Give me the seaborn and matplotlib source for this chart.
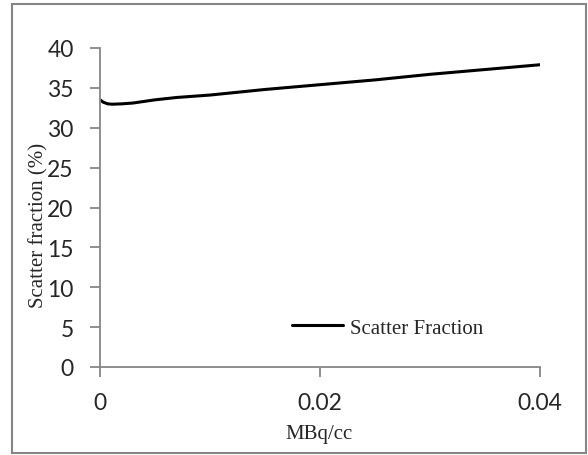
import matplotlib
matplotlib.use("Agg")
import matplotlib.pyplot as plt
import seaborn as sns
import pandas as pd
from matplotlib.patches import Rectangle

activity = [0.0, 0.0003, 0.0007, 0.0011, 0.002, 0.003, 0.005, 0.007, 0.01, 0.015, 0.02, 0.025, 0.03, 0.035, 0.04]
scatter_fraction = [33.5, 33.2, 33.0, 32.95, 33.0, 33.1, 33.5, 33.8, 34.1, 34.8, 35.4, 36.0, 36.7, 37.3, 37.9]
x_ticks = [0, 0.02, 0.04]
x_tick_labels = ["0", "0.02", "0.04"]
y_ticks = [0, 5, 10, 15, 20, 25, 30, 35, 40]

df = pd.DataFrame({"MBq/cc": activity, "Scatter Fraction": scatter_fraction})

sns.set_style("white")
fig = plt.figure(figsize=(5.88, 4.56), dpi=100)
ax = fig.add_axes([100 / 588, 1 - 368 / 456, 440 / 588, (368 - 49) / 456])

sns.lineplot(data=df, x="MBq/cc", y="Scatter Fraction", ax=ax, color="black",
             linewidth=2.2, label="Scatter Fraction", sort=False)

grey = "#868686"
ax.set_xlim(0, 0.04)
ax.set_ylim(0, 40)
ax.set_xticks(x_ticks)
ax.set_xticklabels(x_tick_labels)
ax.set_yticks(y_ticks)
for s in ["top", "right"]:
    ax.spines[s].set_visible(False)
for s in ["left", "bottom"]:
    ax.spines[s].set_color(grey)
    ax.spines[s].set_linewidth(1.3)
ax.tick_params(axis="both", direction="out", length=7, width=1.3, color=grey,
               labelsize=16.5, bottom=True, left=True)
ax.tick_params(axis="x", pad=11)
ax.tick_params(axis="y", pad=12)
for lab in ax.get_xticklabels() + ax.get_yticklabels():
    lab.set_family(["Lato", "DejaVu Sans"])

ax.set_xlabel("MBq/cc", family=["Liberation Serif"], fontsize=15, va="center")
ax.xaxis.set_label_coords(0.498, -0.207)
ax.set_ylabel("Scatter fraction (%)", family=["Liberation Serif"], fontsize=15, va="center")
ax.yaxis.set_label_coords(-0.139, 0.448)

leg = ax.legend(loc="center left", bbox_to_anchor=(0.418, 0.123), frameon=False,
                prop={"family": "Liberation Serif", "size": 15},
                handlelength=2.43, handletextpad=0.33, borderaxespad=0)

fig.patches.append(Rectangle((12 / 588, 2 / 456), 574 / 588, 449 / 456,
                             transform=fig.transFigure, fill=False,
                             edgecolor=grey, linewidth=1.5))

fig.savefig("out.png", dpi=100)
